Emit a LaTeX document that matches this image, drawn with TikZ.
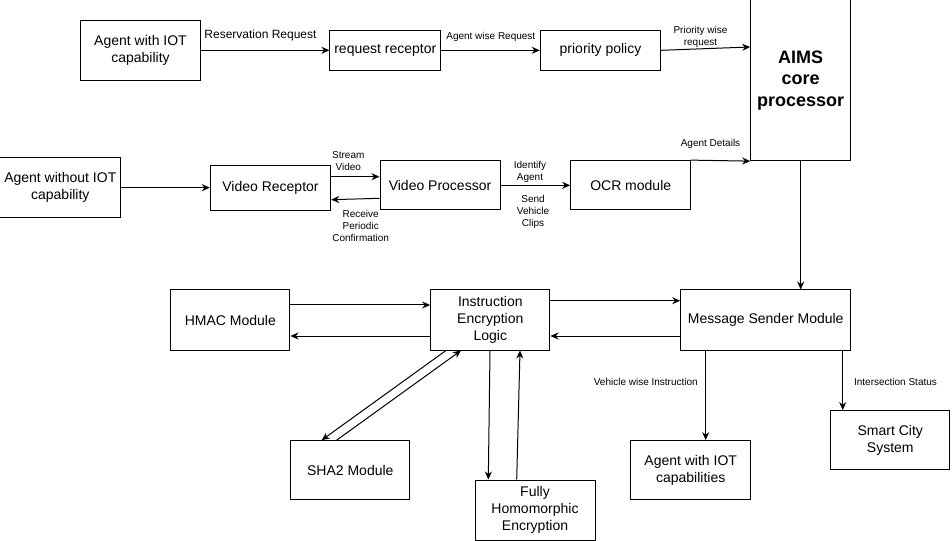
\documentclass[tikz,border=0pt]{standalone}
\usepackage{fontspec}
\setmainfont{Liberation Sans}
\usetikzlibrary{arrows.meta}

\tikzset{every picture/.style={line width=0.75pt}}
\tikzset{
  blk/.style={draw, align=center, inner sep=0.75pt, font=\fontsize{10.5}{12.5}\selectfont},
  lbl/.style={align=center, inner sep=0.75pt, font=\fontsize{7.5}{9}\selectfont},
  arr/.style={-{Stealth[length=6pt,width=5.25pt]}}
}

\begin{document}
\begin{tikzpicture}[x=0.75pt,y=0.75pt,yscale=-1,xscale=1]
\useasboundingbox (0,0) rectangle (952,541);

%Shape: Rectangle
\node[blk, minimum width=90pt, minimum height=45pt] (iot) at (140.5,50.3) {Agent with IOT\\capability};
%Shape: Rectangle
\node[blk, minimum width=83pt, minimum height=30pt] (rr) at (385.3,50.3) {request receptor};
%Shape: Rectangle
\node[blk, minimum width=90.3pt, minimum height=30pt] (pp) at (600.5,50.3) {priority policy};
%Shape: Rectangle
\node[blk, minimum width=75pt, minimum height=120.5pt, font=\fontsize{13.5}{16}\selectfont\bfseries] (aims) at (800.7,80.3) {AIMS\\core\\processor};
%Shape: Rectangle
\node[blk, minimum width=90.5pt, minimum height=45pt] (noniot) at (60.3,187.7) {Agent without IOT\\capability};
%Shape: Rectangle
\node[blk, minimum width=90.3pt, minimum height=33.5pt] (vr) at (270.5,188) {Video Receptor};
%Shape: Rectangle
\node[blk, minimum width=90pt, minimum height=37pt] (vp) at (440,185.3) {Video Processor};
%Shape: Rectangle
\node[blk, minimum width=90pt, minimum height=37pt] (ocr) at (630.7,185.3) {OCR module};
%Shape: Rectangle
\node[blk, minimum width=89.5pt, minimum height=45pt] (hmac) at (230.3,320) {HMAC Module};
%Shape: Rectangle
\node[blk, minimum width=89.5pt, minimum height=45pt] (iel) at (490.3,320) {Instruction\\Encryption\\Logic};
%Shape: Rectangle
\node[blk, minimum width=127.5pt, minimum height=45pt] (msm) at (765.7,320) {Message Sender Module};
%Shape: Rectangle
\node[blk, minimum width=89.5pt, minimum height=44.5pt] (sha) at (350.3,470.3) {SHA2 Module};
%Shape: Rectangle
\node[blk, minimum width=90pt, minimum height=45pt] (fhe) at (535,510) {Fully\\Homomorphic\\Encryption};
%Shape: Rectangle
\node[blk, minimum width=90pt, minimum height=44.5pt] (caps) at (690.7,470.3) {Agent with IOT\\capabilities};
%Shape: Rectangle
\node[blk, minimum width=89.5pt, minimum height=44.5pt] (smart) at (890.3,440.3) {Smart City\\System};

%Straight Lines
\draw[arr] (iot.east) -- (rr.west);
%Straight Lines
\draw[arr] (rr.east) -- (pp.west);
%Straight Lines
\draw[arr] (pp.east) -- (aims.west |- 0,47);
%Straight Lines
\draw[arr] (noniot.east) -- (vr.west |- noniot.east);
%Straight Lines
\draw[arr] (vr.east |- 0,176.7) -- (vp.west |- 0,176.7);
%Straight Lines
\draw[arr] (vp.west |- 0,198.3) -- (vr.east |- 0,199.7);
%Straight Lines
\draw[arr] (vp.east) -- (ocr.west);
%Straight Lines
\draw[arr] (ocr.north east) -- (aims.south west);
%Straight Lines
\draw[arr] (aims.south) -- (msm.north -| aims.south);
%Straight Lines
\draw[arr] (iel.east |- 0,300.7) -- (msm.west |- 0,300.7);
%Straight Lines
\draw[arr] (msm.west |- 0,336) -- (iel.east |- 0,336);
%Straight Lines
\draw[arr] (hmac.east |- 0,305) -- (iel.west |- 0,305);
%Straight Lines
\draw[arr] (iel.west |- 0,336) -- (hmac.east |- 0,336);
%Straight Lines
\draw[arr] (iel.south -| 446,0) -- (sha.north -| 321.7,0);
%Straight Lines
\draw[arr] (sha.north -| 336.7,0) -- (iel.south -| 461,0);
%Straight Lines
\draw[arr] (iel.south -| 490,0) -- (fhe.north -| 488.3,0);
%Straight Lines
\draw[arr] (fhe.north -| 516.7,0) -- (iel.south -| 520,0);
%Straight Lines
\draw[arr] (msm.south -| 705.7,0) -- (caps.north -| 705.7,0);
%Straight Lines
\draw[arr] (msm.south -| 842.7,0) -- (smart.north -| 842.7,0);

% Text Node
\node[lbl, font=\fontsize{9}{11}\selectfont] (lres) at (260.5,35) {Reservation Request};
% Text Node
\node[lbl] (lagw) at (490.8,36.7) {Agent wise Request};
% Text Node
\node[lbl] (lprio) at (700.5,36.5) {Priority wise\\request};
% Text Node
\node[lbl] (lstream) at (348.3,161.5) {Stream\\Video};
% Text Node
\node[lbl] (lrecv) at (360.7,226) {Receive\\Periodic\\Confirmation};
% Text Node
\node[lbl] (lident) at (530,171.7) {Identify\\Agent};
% Text Node
\node[lbl] (lsend) at (533,211.7) {Send\\Vehicle\\Clips};
% Text Node
\node[lbl] (ldet) at (710.5,144.3) {Agent Details};
% Text Node
\node[lbl] (lveh) at (645.8,381.7) {Vehicle wise Instruction};
% Text Node
\node[lbl] (lint) at (895.5,381.7) {Intersection Status};

\end{tikzpicture}
\end{document}
